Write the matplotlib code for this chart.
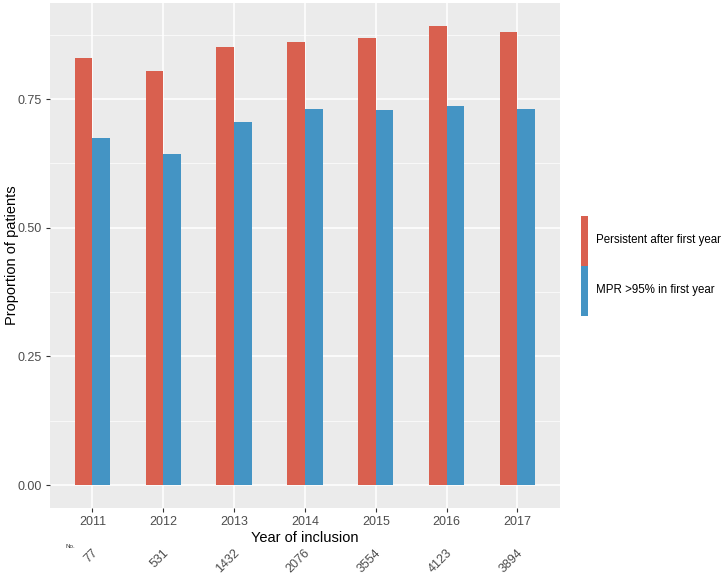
import matplotlib.pyplot as plt
import numpy as np
from matplotlib.patches import Patch

plt.rcParams['font.family'] = ['Liberation Sans', 'DejaVu Sans']

# data
years = ['2011', '2012', '2013', '2014', '2015', '2016', '2017']
persistent = [0.830, 0.804, 0.851, 0.861, 0.868, 0.892, 0.880]
mpr95 = [0.675, 0.643, 0.705, 0.730, 0.729, 0.736, 0.730]
counts = ['77', '531', '1432', '2076', '3554', '4123', '3894']

red = '#D9604F'
blue = '#4494C4'

fig = plt.figure(figsize=(7.24, 5.78), dpi=100)
ax = fig.add_axes([0.069, 0.1211, 0.7044, 0.8737])
ax.set_facecolor('#EBEBEB')

x = np.arange(1, len(years) + 1)
w = 0.25
ax.bar(x - w / 2, persistent, width=w, color=red, zorder=3)
ax.bar(x + w / 2, mpr95, width=w, color=blue, zorder=3)

ymax = max(persistent)
ax.set_xlim(0.4, 7.6)
ax.set_ylim(-0.05 * ymax, ymax * 1.05)

ax.set_yticks([0, 0.25, 0.5, 0.75])
ax.set_yticklabels(['0.00', '0.25', '0.50', '0.75'])
ax.set_yticks([0.125, 0.375, 0.625, 0.875], minor=True)
ax.set_xticks(x)
ax.set_xticklabels(years)

ax.grid(which='major', color='white', linewidth=1.1, zorder=0)
ax.grid(which='minor', axis='y', color='white', linewidth=0.5, zorder=0)
for s in ax.spines.values():
    s.set_visible(False)
ax.tick_params(which='major', length=3, width=0.8, color='#333333', labelsize=9,
               labelcolor='#4D4D4D', pad=3)
ax.tick_params(which='minor', length=0)

ax.set_xlabel('Year of inclusion', fontsize=10.5, labelpad=2)
ax.set_ylabel('Proportion of patients', fontsize=10.5)
ax.yaxis.set_label_coords(-0.061, 0.5)

# counts under the axis
for xi, c in zip(x, counts):
    ax.annotate(c, xy=(xi, 0), xycoords=('data', 'axes fraction'),
                xytext=(2.5, -31), textcoords='offset points',
                ha='right', va='center', rotation=45, rotation_mode='anchor',
                fontsize=9, color='#4D4D4D')
ax.annotate('No.', xy=(0, 0), xycoords='axes fraction', xytext=(11, -29),
            textcoords='offset points', fontsize=4.5, color='#333333')

handles = [Patch(facecolor=red, label='Persistent after first year'),
           Patch(facecolor=blue, label='MPR >95% in first year')]
fig.legend(handles=handles, loc='center left', bbox_to_anchor=(0.803, 0.54),
           frameon=False, fontsize=8.3, handlelength=0.6, handleheight=6.25,
           handletextpad=0.7, labelspacing=0.05, borderpad=0, borderaxespad=0)

fig.savefig('out.png', dpi=100)
